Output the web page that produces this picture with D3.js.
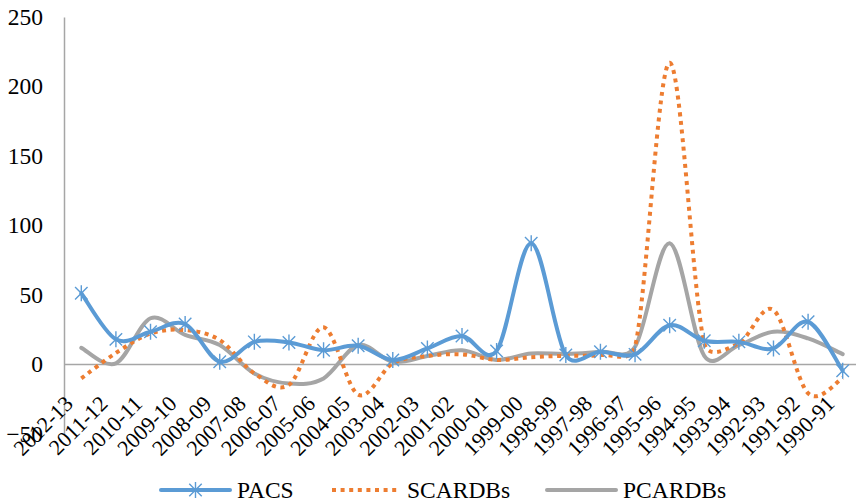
<!DOCTYPE html>
<html>
<head>
<meta charset="utf-8">
<script src="https://cdn.jsdelivr.net/npm/d3@7/dist/d3.min.js"></script>
<style>
  html, body { margin: 0; padding: 0; background: #fff; }
  svg { display: block; font-family: "Liberation Serif", "Times New Roman", serif; }
</style>
</head>
<body>
<svg id="chart" width="856" height="503"></svg>
<script>
// Years, oldest at the right
const categories = ["2012-13","2011-12","2010-11","2009-10","2008-09","2007-08","2006-07","2005-06",
  "2004-05","2003-04","2002-03","2001-02","2000-01","1999-00","1998-99","1997-98","1996-97",
  "1995-96","1994-95","1993-94","1992-93","1991-92","1990-91"];

const pacs    = [51, 17.8, 23.3, 28.8, 1.7, 16, 15.6, 10, 13.2, 2.9, 11.3, 20.2, 9.5, 87, 6.5, 8.9, 7, 28, 16.8, 16, 11.3, 30.5, -4.8];
const scardbs = [-10.3, 8, 22, 24.5, 17.3, -6.7, -15, 26.5, -22, 0.5, 5.8, 7, 3, 5, 6, 6.5, 12.5, 217, 15, 15, 39, -21, -10];
const pcardbs = [11.7, 0.5, 33, 21, 13.7, -6.7, -14, -10.3, 13.7, 1.7, 5.8, 10, 3, 7.7, 7.2, 8.9, 12.5, 87, 6, 13.7, 23.3, 18.5, 7.2];

const yTicks = [-50, 0, 50, 100, 150, 200, 250];

const seriesNames = ["PACS", "SCARDBs", "PCARDBs"];
const seriesColors = ["#5B9BD5", "#ED7D31", "#A5A5A5"];

const series = [
  { name: seriesNames[0], values: pacs,    color: seriesColors[0], dash: null,    marker: true },
  { name: seriesNames[1], values: scardbs, color: seriesColors[1], dash: "4 4.6", marker: false },
  { name: seriesNames[2], values: pcardbs, color: seriesColors[2], dash: null,    marker: false }
];

// Spreadsheet-style smoothing: cubic Bezier per segment, tangent = (next - prev) / 6,
// with the handle length capped at half the segment length to limit overshoot.
function SmoothCurve(context) { this._context = context; }
SmoothCurve.prototype = {
  areaStart() {}, areaEnd() {},
  lineStart() { this._pts = []; },
  point(px, py) { this._pts.push([+px, +py]); },
  lineEnd() {
    const p = this._pts, c = this._context, n = p.length;
    if (!n) return;
    c.moveTo(p[0][0], p[0][1]);
    const handle = (a, b, cap) => {
      let hx = (b[0] - a[0]) / 6, hy = (b[1] - a[1]) / 6;
      const len = Math.hypot(hx, hy);
      if (len > cap && len > 0) { hx *= cap / len; hy *= cap / len; }
      return [hx, hy];
    };
    for (let i = 0; i < n - 1; i++) {
      const p0 = p[i - 1] || p[i], p1 = p[i], p2 = p[i + 1], p3 = p[i + 2] || p[i + 1];
      const cap = Math.hypot(p2[0] - p1[0], p2[1] - p1[1]) / 2;
      const t1 = handle(p0, p2, cap), t2 = handle(p1, p3, cap);
      c.bezierCurveTo(p1[0] + t1[0], p1[1] + t1[1], p2[0] - t2[0], p2[1] - t2[1], p2[0], p2[1]);
    }
  }
};
const curveSmooth = ctx => new SmoothCurve(ctx);

const svg = d3.select("#chart");

const x = d3.scaleBand().domain(categories).range([64, 860]).padding(0);
const y = d3.scaleLinear().domain([-50, 250]).range([433.5, 17]);
const cx = d => x(d) + x.bandwidth() / 2;

// Value axis
const yAxis = svg.append("g")
  .attr("transform", "translate(64,0)")
  .call(d3.axisLeft(y).tickValues(yTicks).tickSize(0).tickPadding(21));
yAxis.attr("font-family", null);
yAxis.select(".domain").attr("stroke", "#A6A6A6").attr("stroke-width", 1.5);
yAxis.selectAll("text").attr("font-size", 23.5).attr("fill", "#000");

// Category axis crossing at zero
const xAxis = svg.append("g")
  .attr("transform", `translate(0,${y(0)})`)
  .call(d3.axisBottom(x).tickSize(0).tickSizeOuter(0));
xAxis.attr("font-family", null);
xAxis.select(".domain").attr("stroke", "#A6A6A6").attr("stroke-width", 1.5);
xAxis.selectAll("text")
  .attr("font-size", 22).attr("fill", "#000")
  .attr("text-anchor", "end")
  .attr("dy", null)
  .attr("y", 0)
  .attr("transform", "translate(-7,41) rotate(-45)");

// Smoothed series lines
const line = d3.line()
  .x((d, i) => cx(categories[i]))
  .y(d => y(d))
  .curve(curveSmooth);

const plot = svg.append("g");
series.slice().reverse().forEach(s => {
  plot.append("path")
    .datum(s.values)
    .attr("fill", "none")
    .attr("stroke", s.color)
    .attr("stroke-width", 4)
    .attr("stroke-dasharray", s.dash)
    .attr("stroke-linecap", s.dash ? "butt" : "round")
    .attr("stroke-linejoin", "round")
    .attr("d", line);
});

// Star marker: vertical bar plus an X
function star(g, px, py, r, color) {
  const k = r * 0.78;
  g.append("path")
    .attr("d", `M${px},${py - r}L${px},${py + r}M${px - k},${py - k}L${px + k},${py + k}M${px - k},${py + k}L${px + k},${py - k}`)
    .attr("stroke", color).attr("stroke-width", 1.4).attr("fill", "none");
}
const markers = svg.append("g");
pacs.forEach((v, i) => star(markers, cx(categories[i]), y(v), 8, seriesColors[0]));

// Legend
const legendItems = [
  { s: series[0], x0: 161, x1: 230, tx: 237 },
  { s: series[1], x0: 332, x1: 400, tx: 407 },
  { s: series[2], x0: 547, x1: 616, tx: 623 }
];
const legend = svg.append("g");
legendItems.forEach(it => {
  legend.append("line")
    .attr("x1", it.x0).attr("x2", it.x1).attr("y1", 490).attr("y2", 490)
    .attr("stroke", it.s.color).attr("stroke-width", 4)
    .attr("stroke-dasharray", it.s.dash)
    .attr("stroke-linecap", it.s.dash ? "butt" : "round");
  if (it.s.marker) star(legend, (it.x0 + it.x1) / 2, 490, 8, it.s.color);
  legend.append("text")
    .attr("x", it.tx).attr("y", 498)
    .attr("font-size", 23.5).attr("fill", "#000")
    .text(it.s.name);
});
</script>
</body>
</html>
